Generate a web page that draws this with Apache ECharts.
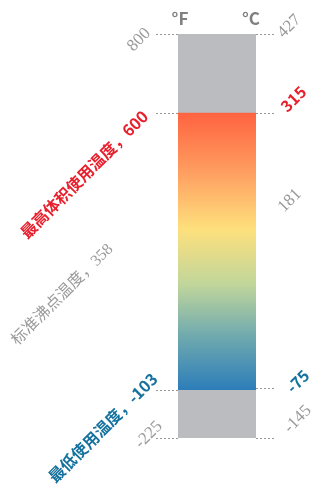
<!DOCTYPE html>
<html>
<head>
<meta charset="utf-8">
<script src="https://cdn.jsdelivr.net/npm/echarts@6/dist/echarts.min.js"></script>
<style>
html, body { margin: 0; padding: 0; background: #fff; }
#chart { width: 318px; height: 487px; }
</style>
</head>
<body>
<div id="chart"></div>
<script>
// 左侧 °F 刻度，右侧 °C 刻度
const fahrenheitTicks = [800, 600, 358, -103, -225]
const fahrenheitNames = ['', '最高体积使用温度', '标准沸点温度', '最低使用温度', '']
const celsiusTicks = [427, 315, 181, -75, -145]
const tickKinds = ['plain', 'high', 'plain', 'low', 'plain']
const rangeF = [-225, 800]
const rangeC = [-145, 427]
const usableF = [-103, 600]

// label nudges (padding) so the rotated labels sit like the original
const leftPad = [[0, 16, 41, 0], [0, 21, 40, 0], [0, 72, 35, 0], [0, 4, 47, 0], [0, 0, 40, 0]]
const rightPad = [[4, 0, 0, 0], [0, 0, 0, 6], [5, 0, 0, 0], [16, 0, 0, 6], [0, 0, 0, 11]]

const grey = '#9a9a9a'
const serif = '"Liberation Serif", "DejaVu Serif", "Noto Sans CJK SC", serif'
const sans = '"Noto Sans CJK SC", "Noto Sans", sans-serif'

const kindStyle = {
  plain: { fontFamily: serif, fontSize: 17, color: grey },
  high: { fontFamily: sans, fontSize: 16, fontWeight: 'bold', color: '#e8202d' },
  low: { fontFamily: sans, fontSize: 16, fontWeight: 'bold', color: '#15729e' }
}

function buildRich(prefix, pads) {
  const rich = {}
  tickKinds.forEach((k, i) => {
    rich[prefix + i] = Object.assign({}, kindStyle[k], { padding: pads[i] })
  })
  rich[prefix + 2].fontSize = prefix == 'l' ? 16 : 17
  return rich
}

function leftLabel(value) {
  const i = fahrenheitTicks.indexOf(value)
  if (i < 0) return ''
  const name = fahrenheitNames[i]
  const text = name ? name + '，' + value : String(value)
  return '{l' + i + '|' + text + '}'
}

function rightLabel(value) {
  const i = celsiusTicks.indexOf(value)
  if (i < 0) return ''
  return '{r' + i + '|' + value + '}'
}

const tickStyle = { color: '#999', type: [2, 2], width: 1 }
const unitStyle = { color: '#808080', fontSize: 17, fontWeight: 'bold', fontFamily: sans }

const chart = echarts.init(document.getElementById('chart'))
chart.setOption({
  animation: false,
  grid: { left: 178, right: 62, top: 34, bottom: 49, outerBoundsMode: 'none' },
  xAxis: { type: 'category', data: ['温度'], show: false },
  yAxis: [
    {
      type: 'value',
      min: rangeF[0],
      max: rangeF[1],
      position: 'left',
      name: '°F',
      nameLocation: 'end',
      nameGap: 7,
      nameTextStyle: Object.assign({ padding: [0, 0, 0, 4] }, unitStyle),
      axisLine: { show: false },
      splitLine: { show: false },
      axisTick: { show: true, length: 22, customValues: [800, 600, -103, -225], lineStyle: tickStyle },
      axisLabel: { rotate: 45, margin: 4, customValues: fahrenheitTicks, formatter: leftLabel, rich: buildRich('l', leftPad) }
    },
    {
      type: 'value',
      min: rangeC[0],
      max: rangeC[1],
      position: 'right',
      name: '°C',
      nameLocation: 'end',
      nameGap: 7,
      nameTextStyle: Object.assign({ padding: [0, 10, 0, 0] }, unitStyle),
      axisLine: { show: false },
      splitLine: { show: false },
      axisTick: { show: true, length: 20, customValues: [427, 315, -75, -145], lineStyle: tickStyle },
      axisLabel: { rotate: 45, margin: 23, customValues: celsiusTicks, formatter: rightLabel, rich: buildRich('r', rightPad) }
    }
  ],
  series: [
    {
      type: 'custom',
      yAxisIndex: 0,
      encode: { x: 0, y: [1, 2] },
      data: [
        [0, rangeF[0], rangeF[1], 0],
        [0, usableF[0], usableF[1], 1]
      ],
      renderItem(params, api) {
        const top = api.coord([api.value(0), api.value(2)])
        const bottom = api.coord([api.value(0), api.value(1)])
        const w = api.size([1, 0])[0]
        const fill = api.value(3) == 0
          ? '#bbbcc0'
          : new echarts.graphic.LinearGradient(0, 0, 0, 1, [
              { offset: 0, color: '#ff6340' },
              { offset: 0.2, color: '#fe9a5e' },
              { offset: 0.42, color: '#fee07d' },
              { offset: 0.62, color: '#c0d69b' },
              { offset: 0.8, color: '#72abae' },
              { offset: 1, color: '#2c7db9' }
            ])
        return {
          type: 'rect',
          shape: { x: top[0] - w / 2, y: top[1], width: w, height: bottom[1] - top[1] },
          style: { fill: fill }
        }
      }
    }
  ]
})
</script>
</body>
</html>
